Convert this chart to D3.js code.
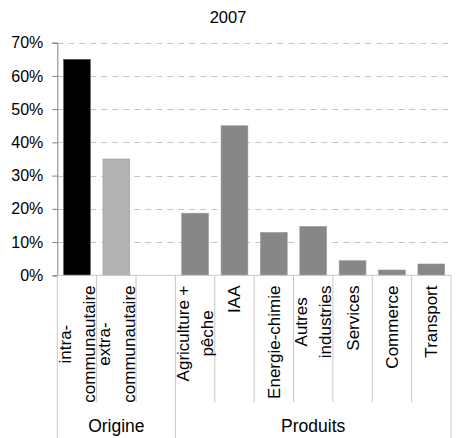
<!DOCTYPE html>
<html>
<head>
<meta charset="utf-8">
<script src="https://cdn.jsdelivr.net/npm/d3@7"></script>
<style>
  body { margin: 0; background: #fff; }
  text { font-family: "Liberation Sans", Arial, sans-serif; fill: #000; }
</style>
</head>
<body>
<div id="chart"></div>
<script>
const categories = ['intra-communautaire', 'extra-communautaire', '', 'Agriculture + pêche', 'IAA',
  'Energie-chimie', 'Autres industries', 'Services', 'Commerce', 'Transport'];
const labelLines = [['intra-', 'communautaire'], ['extra-', 'communautaire'], [], ['Agriculture +', 'pêche'], ['IAA'],
  ['Energie-chimie'], ['Autres', 'industries'], ['Services'], ['Commerce'], ['Transport']];
const values = [65, 35, null, 18.7, 45, 12.9, 14.7, 4.4, 1.6, 3.4];
const barColors = ['#000000', '#b3b3b3', null, '#878787', '#878787', '#878787', '#878787', '#878787', '#878787', '#878787'];
const groups = [{ name: 'Origine', from: 0, to: 2 }, { name: 'Produits', from: 3, to: 9 }];
const yTicks = [0, 10, 20, 30, 40, 50, 60, 70];

const width = 458;
const height = 438;
const plotLeft = 57.3, plotRight = 451, plotTop = 42.7, plotBottom = 275.3;

const svg = d3.select('#chart')
    .append('svg')
    .attr('width', width)
    .attr('height', height);

const x = d3.scaleBand()
    .domain(d3.range(categories.length))
    .range([plotLeft, plotRight])
    .paddingInner(0.32)
    .paddingOuter(0.16);
const step = x.step();
const y = d3.scaleLinear().domain([0, 70]).range([plotBottom, plotTop]);

// title
svg.append('text')
    .attr('x', 228)
    .attr('y', 23)
    .attr('text-anchor', 'middle')
    .style('font-size', '16.5px')
    .text('2007');

// dashed gridlines
svg.selectAll('line.grid')
    .data(yTicks.filter(d => d > 0))
    .enter()
    .append('line')
    .attr('x1', plotLeft)
    .attr('x2', plotRight)
    .attr('y1', d => Math.round(y(d)) + 0.5)
    .attr('y2', d => Math.round(y(d)) + 0.5)
    .attr('stroke', '#c4c4c4')
    .attr('stroke-dasharray', '6,5');

// bars
svg.selectAll('rect.bar')
    .data(values.map((v, i) => ({ v, i })).filter(d => d.v != null))
    .enter()
    .append('rect')
    .attr('x', d => x(d.i))
    .attr('y', d => y(d.v))
    .attr('width', x.bandwidth())
    .attr('height', d => y(0) - y(d.v))
    .attr('fill', d => barColors[d.i])
    .attr('stroke', d => d.i === 0 ? '#555' : '#999')
    .attr('stroke-width', 0.6);

// y axis
const yAxis = d3.axisLeft(y)
    .tickValues(yTicks)
    .tickSize(5)
    .tickFormat(d => d + '%');
const yg = svg.append('g')
    .attr('transform', `translate(${plotLeft},0)`)
    .call(yAxis);
yg.select('.domain').attr('stroke', '#808080');
yg.selectAll('.tick line').attr('stroke', '#808080');
yg.selectAll('.tick text')
    .attr('x', -14)
    .style('font-size', '16px')
    .style('font-family', '"Liberation Sans", Arial, sans-serif')
    .attr('fill', '#000');

// x baseline
svg.append('line')
    .attr('x1', plotLeft).attr('x2', plotRight)
    .attr('y1', plotBottom).attr('y2', plotBottom)
    .attr('stroke', '#c8c8c8');

// category separators
const groupEdges = [0, 3, categories.length];
svg.selectAll('line.sep')
    .data(d3.range(categories.length + 1))
    .enter()
    .append('line')
    .attr('x1', i => plotLeft + i * step)
    .attr('x2', i => plotLeft + i * step)
    .attr('y1', plotBottom)
    .attr('y2', i => groupEdges.includes(i) ? height : 402)
    .attr('stroke', '#c8c8c8');

// rotated category labels
const labelTop = 285.5;
const lineGap = 24.5;
labelLines.forEach((lines, i) => {
  if (!lines.length) return;
  const cx = x(i) + x.bandwidth() / 2;
  const texts = lines.map(t => svg.append('text')
      .attr('text-anchor', 'middle')
      .attr('dy', '0.35em')
      .style('font-size', '17px')
      .text(t));
  const blockLen = d3.max(texts, t => t.node().getComputedTextLength());
  texts.forEach((t, j) => {
    const lx = cx + (j - (lines.length - 1) / 2) * lineGap;
    const ly = labelTop + blockLen / 2;
    t.attr('transform', `translate(${lx},${ly}) rotate(-90)`);
  });
});

// group labels
svg.selectAll('text.group')
    .data(groups)
    .enter()
    .append('text')
    .attr('x', d => plotLeft + (d.from + d.to + 1) / 2 * step)
    .attr('y', 432)
    .attr('text-anchor', 'middle')
    .style('font-size', '17.5px')
    .text(d => d.name);
</script>
</body>
</html>
